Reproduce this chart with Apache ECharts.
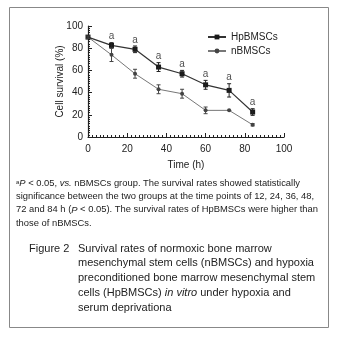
<!DOCTYPE html>
<html><head><meta charset="utf-8">
<script src="https://cdn.jsdelivr.net/npm/echarts@6/dist/echarts.min.js"></script>
<style>html,body{margin:0;padding:0;background:#fff}#c{width:338px;height:338px}</style>
</head><body><div id="c"></div>
<script>
const timePoints = [0, 12, 24, 36, 48, 60, 72, 84];
const hpValues = [90, 82.5, 79, 63, 57, 47, 42, 22.5];
const hpErrors = [1, 2.5, 3, 4, 3, 4, 6, 3];
const nValues = [90, 74, 57, 43, 39, 24, 24, 11];
const nErrors = [1, 6, 4, 4, 4, 3, 0, 1];
const sigLabels = ['', 'a', 'a', 'a', 'a', 'a', 'a', 'a'];
const xTicks = [0, 20, 40, 60, 80, 100];
const yTicks = [0, 20, 40, 60, 80, 100];
const seriesNames = ['HpBMSCs', 'nBMSCs'];

const FONT = '"Liberation Sans", Arial, sans-serif';
const chart = echarts.init(document.getElementById('c'), null, {renderer: 'canvas'});

function pairs(vals) { return timePoints.map((t, i) => [t, vals[i]]); }
function errData(vals, errs) { return timePoints.map((t, i) => [t, vals[i] - errs[i], vals[i] + errs[i]]); }
function errRender(color) {
  return function (params, api) {
    const lo = api.coord([api.value(0), api.value(1)]);
    const hi = api.coord([api.value(0), api.value(2)]);
    const w = 2;
    return {type: 'group', children: [
      {type: 'line', shape: {x1: lo[0], y1: lo[1], x2: hi[0], y2: hi[1]}, style: {stroke: color, lineWidth: 1}},
      {type: 'line', shape: {x1: lo[0]-w, y1: lo[1], x2: lo[0]+w, y2: lo[1]}, style: {stroke: color, lineWidth: 1}},
      {type: 'line', shape: {x1: hi[0]-w, y1: hi[1], x2: hi[0]+w, y2: hi[1]}, style: {stroke: color, lineWidth: 1}}
    ]};
  };
}

const footLines = [
  '{sup|a}{it|P} < 0.05, {it|vs.} nBMSCs group. The survival rates showed statistically',
  'significance between the two groups at the time points of 12, 24, 36, 48,',
  '72 and 84 h ({it|P} < 0.05). The survival rates of HpBMSCs were higher than',
  'those of nBMSCs.'
];
const capLines = [
  'Survival rates of normoxic bone marrow',
  'mesenchymal stem cells (nBMSCs) and hypoxia',
  'preconditioned bone marrow mesenchymal stem',
  'cells (HpBMSCs) {it|in vitro} under hypoxia and',
  'serum deprivationa'
];

const graphics = [
  {type: 'rect', shape: {x: 9.5, y: 7.5, width: 319, height: 320}, style: {fill: 'none', stroke: '#888', lineWidth: 1}, silent: true}
];
footLines.forEach((t, i) => graphics.push({
  type: 'text', x: 16, y: 183.5 + i * 13.2,
  style: {text: t, font: '9.4px ' + FONT, fill: '#222', textVerticalAlign: 'middle',
    rich: {it: {fontStyle: 'italic', fontSize: 9.4, fontFamily: FONT, fill: '#222'},
           sup: {fontSize: 6, fontFamily: FONT, fill: '#222', verticalAlign: 'top'}}}
}));
graphics.push({type: 'text', x: 29, y: 248.5, style: {text: 'Figure 2', font: '11px ' + FONT, fill: '#222', textVerticalAlign: 'middle'}});
capLines.forEach((t, i) => graphics.push({
  type: 'text', x: 78, y: 248.5 + i * 14.8,
  style: {text: t, font: '11px ' + FONT, fill: '#222', textVerticalAlign: 'middle',
    rich: {it: {fontStyle: 'italic', fontSize: 11, fontFamily: FONT, fill: '#222'}}}
}));

const axisCommon = {
  axisLine: {show: true, lineStyle: {color: '#222', width: 1.2}},
  axisTick: {show: true, inside: true, length: 4, lineStyle: {color: '#222'}},
  minorTick: {show: true, splitNumber: 10, length: 2, lineStyle: {color: '#222'}},
  splitLine: {show: false},
  axisLabel: {color: '#222', fontSize: 10, fontFamily: FONT},
  nameTextStyle: {color: '#222', fontSize: 10, fontFamily: FONT},
  nameMoveOverlap: false
};

chart.setOption({
  animation: false,
  backgroundColor: '#fff',
  textStyle: {fontFamily: FONT},
  grid: {left: 88, right: 54, top: 26, bottom: 201, containLabel: false},
  legend: {
    left: 205, top: 30, orient: 'vertical', itemGap: 4, itemWidth: 18, itemHeight: 6, padding: 2,
    textStyle: {color: '#222', fontSize: 10, fontFamily: FONT},
    data: seriesNames
  },
  xAxis: Object.assign({}, axisCommon, {
    type: 'value', min: 0, max: 100, interval: 20,
    name: 'Time (h)', nameLocation: 'middle', nameGap: 23,
    axisLabel: Object.assign({}, axisCommon.axisLabel, {margin: 7, formatter: v => xTicks.includes(v) ? String(v) : ''})
  }),
  yAxis: Object.assign({}, axisCommon, {
    type: 'value', min: 0, max: 100, interval: 20,
    name: 'Cell survival (%)', nameLocation: 'middle', nameGap: 23,
    axisLabel: Object.assign({}, axisCommon.axisLabel, {margin: 5, formatter: v => yTicks.includes(v) ? String(v) : ''})
  }),
  graphic: graphics,
  series: [
    {name: seriesNames[0], type: 'line', data: pairs(hpValues), symbol: 'rect', symbolSize: 5,
     itemStyle: {color: '#1a1a1a'}, lineStyle: {color: '#333', width: 1.2}, z: 4},
    {name: seriesNames[1], type: 'line', data: pairs(nValues), symbol: 'circle', symbolSize: 4,
     itemStyle: {color: '#444'}, lineStyle: {color: '#777', width: 1}, z: 3},
    {name: 'hpErr', type: 'custom', data: errData(hpValues, hpErrors), renderItem: errRender('#222'), z: 5, silent: true},
    {name: 'nErr', type: 'custom', data: errData(nValues, nErrors), renderItem: errRender('#444'), z: 5, silent: true},
    {name: 'sig', type: 'scatter', symbolSize: 0, silent: true, z: 6,
     data: timePoints.map((t, i) => ({value: [t, hpValues[i] + hpErrors[i]], label: {formatter: sigLabels[i]}})),
     label: {show: true, position: 'top', distance: 1, color: '#222', fontSize: 10, fontFamily: FONT}}
  ]
});
</script></body></html>
